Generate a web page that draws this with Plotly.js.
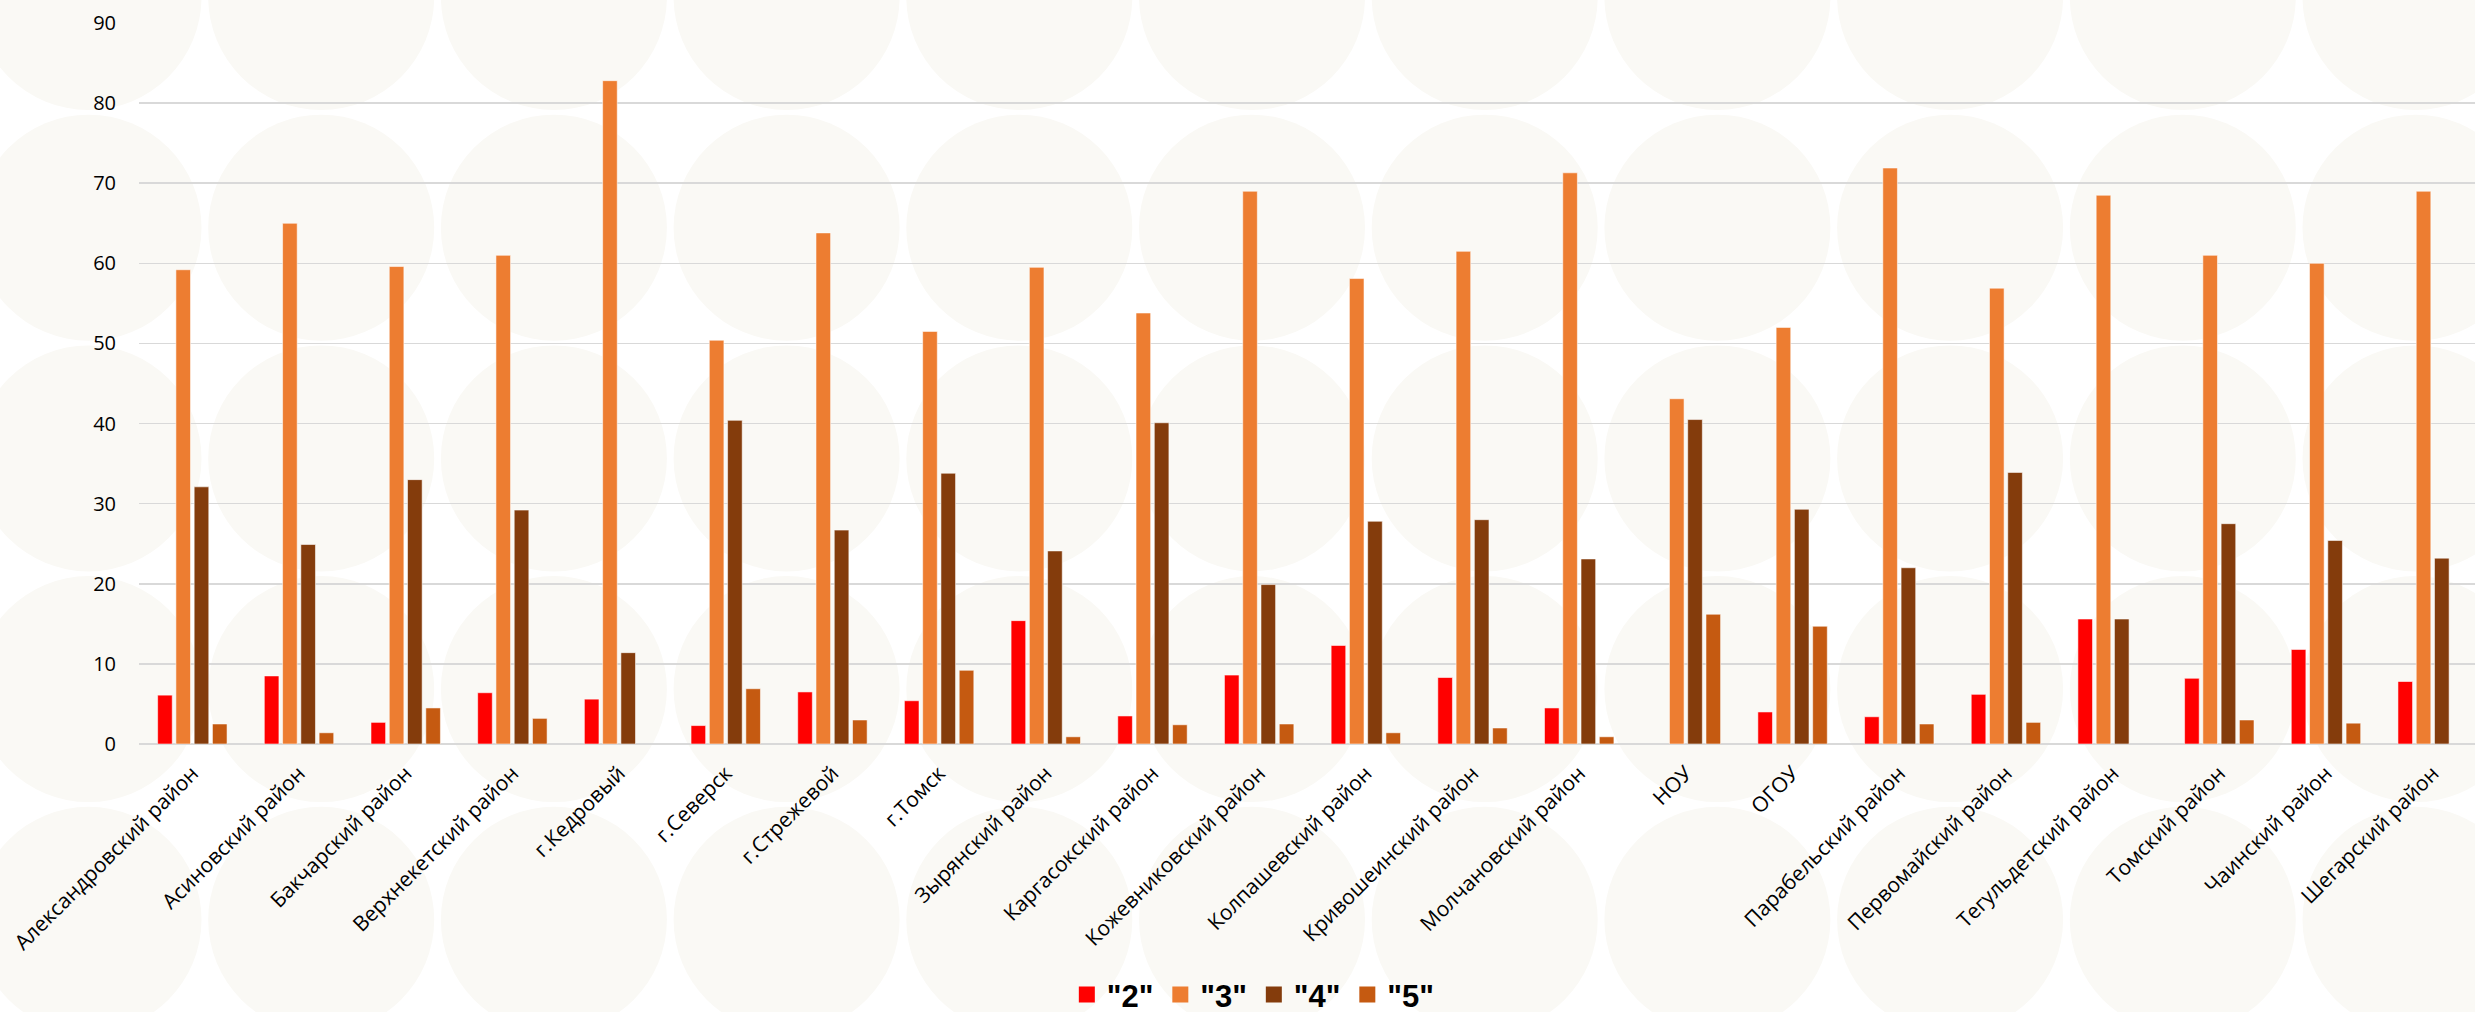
<!DOCTYPE html>
<html>
<head>
<meta charset="utf-8">
<script src="https://cdn.plot.ly/plotly-3.0.1.min.js"></script>
<style>
  html, body { margin: 0; padding: 0; background: #ffffff; overflow: hidden; }
  #wrap { position: relative; width: 2475px; height: 1012px; overflow: hidden; }
  #bg { position: absolute; left: 0; top: 0; z-index: 0; }
  #chart { position: absolute; left: 0; top: 0; width: 2490px; height: 1040px; z-index: 1; }
</style>
</head>
<body>
<div id="wrap">
  <svg id="bg" width="2475" height="1012" xmlns="http://www.w3.org/2000/svg"></svg>
  <div id="chart"></div>
</div>
<script>
// ---- data ----
const categories = ["Александровский район","Асиновский район","Бакчарский район","Верхнекетский район","г.Кедровый","г.Северск","г.Стрежевой","г.Томск","Зырянский район","Каргасокский район","Кожевниковский район","Колпашевский район","Кривошеинский район","Молчановский район","НОУ","ОГОУ","Парабельский район","Первомайский район","Тегульдетский район","Томский район","Чаинский район","Шегарский район"];
const grade2 = [6.1, 8.5, 2.7, 6.4, 5.6, 2.3, 6.5, 5.4, 15.4, 3.5, 8.6, 12.3, 8.3, 4.5, null, 4.0, 3.4, 6.2, 15.6, 8.2, 11.8, 7.8];
const grade3 = [59.2, 65.0, 59.6, 61.0, 82.8, 50.4, 63.8, 51.5, 59.5, 53.8, 69.0, 58.1, 61.5, 71.3, 43.1, 52.0, 71.9, 56.9, 68.5, 61.0, 60.0, 69.0];
const grade4 = [32.1, 24.9, 33.0, 29.2, 11.4, 40.4, 26.7, 33.8, 24.1, 40.1, 19.9, 27.8, 28.0, 23.1, 40.5, 29.3, 22.0, 33.9, 15.6, 27.5, 25.4, 23.2];
const grade5 = [2.5, 1.4, 4.5, 3.2, null, 6.9, 3.0, 9.2, 0.9, 2.4, 2.5, 1.4, 2.0, 0.9, 16.2, 14.7, 2.5, 2.7, null, 3.0, 2.6, null];
const seriesNames = ['"2"', '"3"', '"4"', '"5"'];
const yTicks = [0, 10, 20, 30, 40, 50, 60, 70, 80, 90];

// ---- decorative background circles ----
(function () {
  const svg = document.getElementById('bg');
  const ns = 'http://www.w3.org/2000/svg';
  for (let i = 0; i < 11; i++) {
    for (let j = 0; j < 5; j++) {
      const c = document.createElementNS(ns, 'circle');
      c.setAttribute('cx', 88.5 + i * 232.7);
      c.setAttribute('cy', -3 + j * 230.7);
      c.setAttribute('r', 113);
      c.setAttribute('fill', '#faf9f5');
      svg.appendChild(c);
    }
  }
})();

const colors = ['#ff0000', '#ed7d31', '#843c0c', '#c55a11'];
const values = [grade2, grade3, grade4, grade5];

const traces = [];
values.forEach((v, k) => {
  traces.push({
    type: 'bar',
    x: categories,
    y: v,
    name: seriesNames[k],
    showlegend: false,
    marker: { color: colors[k], line: { color: 'rgba(255,255,255,0.55)', width: 1 } },
    hoverinfo: 'skip'
  });
});
// legend-only entries (larger square symbols)
values.forEach((v, k) => {
  traces.push({
    type: 'scatter',
    mode: 'markers',
    x: [categories[0]],
    y: [null],
    name: seriesNames[k],
    showlegend: true,
    marker: { color: colors[k], symbol: 'square', size: 17 },
    hoverinfo: 'skip'
  });
});

const layout = {
  width: 2490,
  height: 1040,
  margin: { l: 139, r: 4, t: 23, b: 296, pad: 0, autoexpand: false },
  paper_bgcolor: 'rgba(0,0,0,0)',
  plot_bgcolor: 'rgba(0,0,0,0)',
  barmode: 'group',
  bargap: 0.315,
  bargroupgap: 0.2,
  showlegend: true,
  legend: {
    orientation: 'h',
    x: 0.475, xanchor: 'center',
    y: -0.348, yanchor: 'middle',
    entrywidth: 48.5,
    font: { family: 'Liberation Sans, Arial, sans-serif', size: 31, color: '#000000', weight: 'bold' },
    bgcolor: 'rgba(0,0,0,0)',
    traceorder: 'normal'
  },
  xaxis: {
    type: 'category',
    range: [-0.5, categories.length - 0.5],
    automargin: false,
    tickangle: -45,
    tickfont: { family: 'Open Sans, sans-serif', size: 21, color: '#000000' },
    ticklabelstandoff: 12,
    showgrid: false,
    showline: false,
    zeroline: false,
    ticks: '',
    fixedrange: true
  },
  yaxis: {
    automargin: false,
    range: [0, 90],
    tickvals: yTicks,
    ticktext: yTicks.map(String),
    tickfont: { family: 'Open Sans, sans-serif', size: 20, color: '#000000' },
    showgrid: true,
    gridcolor: '#d9d9d9',
    gridwidth: 1.5,
    zeroline: true,
    zerolinecolor: '#d9d9d9',
    zerolinewidth: 1.5,
    showline: false,
    ticks: '',
    ticklabelstandoff: 22,
    fixedrange: true
  }
};

Plotly.newPlot('chart', traces, layout, { displayModeBar: false, staticPlot: true });
</script>
</body>
</html>
